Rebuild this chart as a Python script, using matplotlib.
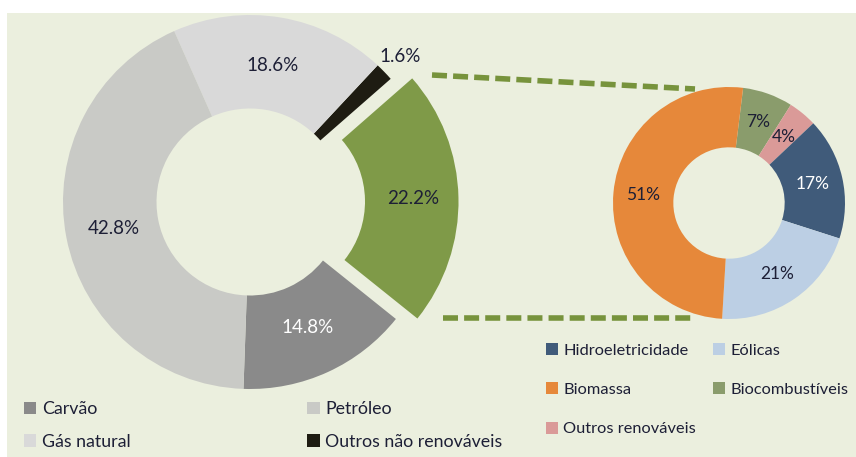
"""Matriz energética: donut principal + detalhe das renováveis."""

import matplotlib

matplotlib.use("Agg")
import matplotlib.pyplot as plt
import numpy as np
from matplotlib.lines import Line2D
from matplotlib.patches import Patch, Rectangle

# --- data -------------------------------------------------------------------
main_labels = ["Carvão", "Renováveis", "Outros não renováveis", "Gás natural", "Petróleo"]
main_values = [14.8, 22.2, 1.6, 18.6, 42.8]
main_colors = ["#8a8a8a", "#7f9a48", "#1e1c12", "#d9d9d9", "#c9cac6"]
main_text = ["14.8%", "22.2%", "1.6%", "18.6%", "42.8%"]

ren_labels = ["Biocombustíveis", "Outros renováveis", "Hidroeletricidade", "Eólicas", "Biomassa"]
ren_values = [7, 4, 17, 21, 51]
ren_colors = ["#8a9c6c", "#da9a98", "#405b7a", "#bccfe4", "#e6883a"]

# legend order, filled column by column
main_legend = ["Carvão", "Gás natural", "Petróleo", "Outros não renováveis"]
ren_legend = ["Hidroeletricidade", "Biomassa", "Outros renováveis", "Eólicas", "Biocombustíveis"]

BG = "#ebefde"
TXT = "#1d1f36"
W, H = 856, 457
plt.rcParams["font.family"] = ["Lato", "DejaVu Sans"]


def px_axes(fig, cx, cy, r):
    # square axes centred on pixel (cx, cy); data radius 1 == r pixels
    half = 1.25 * r
    ax = fig.add_axes([(cx - half) / W, (H - cy - half) / H, 2 * half / W, 2 * half / H])
    return ax


def fig_line(fig, x0, y0, x1, y1):
    fig.add_artist(Line2D([x0 / W, x1 / W], [1 - y0 / H, 1 - y1 / H], transform=fig.transFigure,
                          color="#77933c", lw=4, dashes=(2.7, 1.1)))


fig = plt.figure(figsize=(W / 100, H / 100), dpi=100, facecolor="white")
fig.add_artist(Rectangle((7 / W, 0), 1, 1 - 13 / H, transform=fig.transFigure,
                         facecolor=BG, edgecolor="none", zorder=-5))

# main donut
ax = px_axes(fig, 250, 202, 187)
wedges, _ = ax.pie(main_values, colors=main_colors, startangle=268, counterclock=True,
                   explode=[0, 0.115, 0, 0, 0], radius=1,
                   wedgeprops=dict(width=0.5, linewidth=0))
ax.set_xlim(-1.25, 1.25)
ax.set_ylim(-1.25, 1.25)
ax.set_aspect("equal")
ax.axis("off")
for w, txt in zip(wedges, main_text):
    ang = np.deg2rad((w.theta1 + w.theta2) / 2)
    cx, cy = w.center
    dist = {"1.6%": 1.12, "22.2%": 0.76}.get(txt, 0.74)
    col = "white" if txt == "14.8%" else TXT
    ax.text(cx + dist * np.cos(ang), cy + dist * np.sin(ang), txt,
            ha="center", va="center", fontsize=13.5, color=col)

# renewables donut
ax2 = px_axes(fig, 729, 203, 116)
w2, _ = ax2.pie(ren_values, colors=ren_colors, startangle=83, counterclock=False,
                radius=1, wedgeprops=dict(width=0.52, linewidth=0))
ax2.set_xlim(-1.25, 1.25)
ax2.set_ylim(-1.25, 1.25)
ax2.set_aspect("equal")
ax2.axis("off")
for w, v in zip(w2, ren_values):
    ang = np.deg2rad((w.theta1 + w.theta2) / 2)
    col = "white" if v == 17 else TXT
    ax2.text(0.74 * np.cos(ang), 0.74 * np.sin(ang), f"{v}%", ha="center", va="center",
             fontsize=12.5, color=col)

# connector lines
fig_line(fig, 432, 75, 695, 89)
fig_line(fig, 443, 318, 695, 318)

# legends
lut = dict(zip(main_labels, main_colors))
h1 = [Patch(facecolor=lut[n], edgecolor="none") for n in main_legend]
fig.legend(h1, main_legend, ncol=2, loc="upper left", bbox_to_anchor=(24 / W, 1 - 401 / H),
           frameon=False, fontsize=12.8, handlelength=0.7, handleheight=0.7,
           handletextpad=0.3, columnspacing=9.95, labelspacing=0.95, borderaxespad=0,
           borderpad=0, labelcolor=TXT)

lut2 = dict(zip(ren_labels, ren_colors))
h2 = [Patch(facecolor=lut2[n], edgecolor="none") for n in ren_legend]
fig.legend(h2, ren_legend, ncol=2, loc="upper left", bbox_to_anchor=(546 / W, 1 - 343 / H),
           frameon=False, fontsize=11.8, handlelength=0.75, handleheight=0.75,
           handletextpad=0.3, columnspacing=1.05, labelspacing=1.5, borderaxespad=0,
           borderpad=0, labelcolor=TXT)

fig.savefig("out.png", dpi=100, facecolor="white")
